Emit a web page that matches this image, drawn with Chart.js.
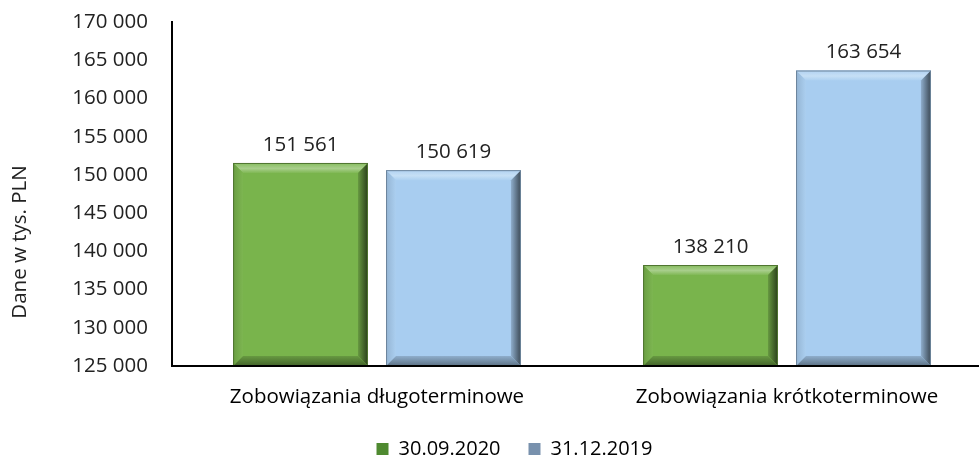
<!DOCTYPE html>
<html>
<head>
<meta charset="utf-8">
<script src="https://cdn.jsdelivr.net/npm/chart.js@4.4.0/dist/chart.umd.min.js"></script>
<style>
html,body{margin:0;padding:0;background:#fff;}
#wrap{width:979px;height:459px;position:relative;}
</style>
</head>
<body>
<div id="wrap"><canvas id="c" width="979" height="459"></canvas></div>
<script>
const categories = ["Zobowiązania długoterminowe", "Zobowiązania krótkoterminowe"];
const seriesNames = ["30.09.2020", "31.12.2019"];
const values2020 = [151561, 138210];
const values2019 = [150619, 163654];
const yMin = 125000, yMax = 170000, yStep = 5000;
const yTitle = "Dane w tys. PLN";

const FONT = "'Open Sans', Lato, sans-serif";
const fmt = v => String(Math.round(v)).replace(/\B(?=(\d{3})+(?!\d))/g, ' ');

function shade(hex, amt) {
  const n = parseInt(hex.slice(1), 16);
  let r = (n >> 16) & 255, g = (n >> 8) & 255, b = n & 255;
  if (amt >= 0) { r += (255 - r) * amt; g += (255 - g) * amt; b += (255 - b) * amt; }
  else { r *= 1 + amt; g *= 1 + amt; b *= 1 + amt; }
  return `rgb(${Math.round(r)},${Math.round(g)},${Math.round(b)})`;
}

// plot area in the original continues slightly past the right edge; legend sits right of centre
const layoutPlugin = {
  id: 'layoutTweak',
  afterLayout(chart) {
    const s = chart.scales.x, ext = 13;
    s.right += ext; s.width += ext;
    chart.chartArea.right += ext; chart.chartArea.width += ext;
    s.configure();
    const lg = chart.legend, dy = -8, dx = 25;
    lg.top += dy;
    lg.bottom = chart.height;
    lg.height = lg.bottom - lg.top;
    lg.left += dx; lg.right += dx;
  }
};

const bevelPlugin = {
  id: 'bevel',
  afterDatasetsDraw(chart) {
    const ctx = chart.ctx;
    const ca = chart.chartArea;
    chart.data.datasets.forEach((ds, di) => {
      const meta = chart.getDatasetMeta(di);
      const base = ds.baseColor;
      meta.data.forEach((bar, i) => {
        const { x, y, base: b, width } = bar.getProps(['x', 'y', 'base', 'width'], true);
        const l = x - width / 2, r = x + width / 2;
        const t = Math.max(Math.min(y, b), ca.top);
        const bt = Math.min(Math.max(y, b), ca.bottom);
        const e = 10;
        ctx.save();
        let g = ctx.createLinearGradient(0, t, 0, t + e);
        g.addColorStop(0, shade(base, 0.1)); g.addColorStop(0.55, shade(base, 0.35)); g.addColorStop(1, shade(base, 0.05));
        ctx.fillStyle = g;
        ctx.beginPath(); ctx.moveTo(l, t); ctx.lineTo(r, t); ctx.lineTo(r - e, t + e); ctx.lineTo(l + e, t + e); ctx.closePath(); ctx.fill();
        g = ctx.createLinearGradient(l, 0, l + e, 0);
        g.addColorStop(0, shade(base, -0.12)); g.addColorStop(1, shade(base, 0.03));
        ctx.fillStyle = g;
        ctx.beginPath(); ctx.moveTo(l, t); ctx.lineTo(l + e, t + e); ctx.lineTo(l + e, bt - e); ctx.lineTo(l, bt); ctx.closePath(); ctx.fill();
        g = ctx.createLinearGradient(r - e, 0, r, 0);
        g.addColorStop(0, shade(base, -0.15)); g.addColorStop(1, shade(base, -0.65));
        ctx.fillStyle = g;
        ctx.beginPath(); ctx.moveTo(r, t); ctx.lineTo(r - e, t + e); ctx.lineTo(r - e, bt - e); ctx.lineTo(r, bt); ctx.closePath(); ctx.fill();
        g = ctx.createLinearGradient(0, bt - e, 0, bt);
        g.addColorStop(0, shade(base, -0.15)); g.addColorStop(1, shade(base, -0.45));
        ctx.fillStyle = g;
        ctx.beginPath(); ctx.moveTo(l, bt); ctx.lineTo(l + e, bt - e); ctx.lineTo(r - e, bt - e); ctx.lineTo(r, bt); ctx.closePath(); ctx.fill();
        ctx.strokeStyle = shade(base, -0.35); ctx.lineWidth = 1;
        ctx.strokeRect(l + 0.5, t + 0.5, width - 1, bt - t - 1);
        ctx.restore();
        ctx.save();
        ctx.fillStyle = '#222';
        ctx.font = `20.5px ${FONT}`;
        ctx.textAlign = 'center'; ctx.textBaseline = 'bottom';
        ctx.fillText(fmt(ds.data[i]), x, t - 8);
        ctx.restore();
      });
    });
    ctx.save();
    ctx.strokeStyle = '#000'; ctx.lineWidth = 2;
    ctx.beginPath(); ctx.moveTo(ca.left, ca.bottom); ctx.lineTo(ca.right, ca.bottom); ctx.stroke();
    ctx.restore();
  },
  afterDraw(chart) {
    const ctx = chart.ctx;
    ctx.save();
    ctx.fillStyle = '#222';
    ctx.font = `20.5px ${FONT}`;
    ctx.translate(20, 242);
    ctx.rotate(-Math.PI / 2);
    ctx.textAlign = 'center'; ctx.textBaseline = 'middle';
    ctx.fillText(yTitle, 0, 0);
    ctx.restore();
  }
};

new Chart(document.getElementById('c'), {
  type: 'bar',
  data: {
    labels: categories,
    datasets: [
      { label: seriesNames[0], data: values2020, baseColor: '#79b44c', backgroundColor: '#79b44c', legendColor: '#4f8a30', borderWidth: 0,
        barPercentage: 0.882, categoryPercentage: 0.746 },
      { label: seriesNames[1], data: values2019, baseColor: '#a8cdf0', backgroundColor: '#a8cdf0', legendColor: '#7891ad', borderWidth: 0,
        barPercentage: 0.882, categoryPercentage: 0.746 }
    ]
  },
  options: {
    responsive: false,
    animation: false,
    devicePixelRatio: 1,
    layout: { padding: { left: 0, right: 0, top: 22, bottom: 0 } },
    plugins: {
      legend: {
        position: 'bottom',
        maxHeight: 40,
        labels: {
          font: { family: FONT, size: 20 }, color: '#000', boxWidth: 12, boxHeight: 12, padding: 28,
          generateLabels: chart => chart.data.datasets.map((ds, i) => ({
            text: ds.label, fillStyle: ds.legendColor, strokeStyle: ds.legendColor, lineWidth: 0, datasetIndex: i, hidden: false
          }))
        }
      },
      tooltip: { enabled: false }
    },
    scales: {
      x: {
        grid: { display: false },
        border: { display: true, color: '#000', width: 2 },
        afterFit: s => { s.height = 53; },
        ticks: { font: { family: FONT, size: 20.5 }, color: '#000', padding: 11 }
      },
      y: {
        min: yMin, max: yMax,
        grid: { display: false, drawTicks: false },
        border: { display: true, color: '#000', width: 2 },
        afterFit: s => { s.width = 172; s.paddingTop = 0; s.paddingBottom = 0; },
        ticks: { stepSize: yStep, font: { family: FONT, size: 20.5 }, color: '#222', padding: 24, callback: v => fmt(v) }
      }
    }
  },
  plugins: [layoutPlugin, bevelPlugin]
});
</script>
</body>
</html>
